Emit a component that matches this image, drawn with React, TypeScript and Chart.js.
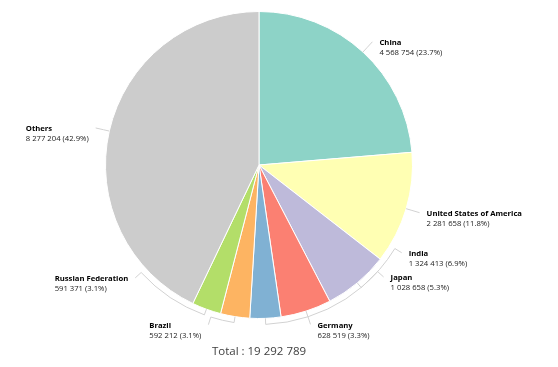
import React, { useEffect, useRef } from "react";
import { Chart, registerables } from "chart.js";

Chart.register(...registerables);

const categories = [
  "China",
  "United States of America",
  "India",
  "Japan",
  "Germany",
  "Brazil",
  "Russian Federation",
  "Others",
];
const values = [4568754, 2281658, 1324413, 1028658, 628519, 592212, 591371, 8277204];
const colors = ["#8dd3c7", "#ffffb3", "#bebada", "#fb8072", "#80b1d3", "#fdb462", "#b3de69", "#cccccc"];
// label angular displacement (degrees) from slice middle, to avoid overlap
const labelShiftDeg = [0, 0, -18.6, -30.2, -15.5, 8.6, 27.6, 0];

const fmt = (n: number) => String(n).replace(/\B(?=(\d{3})+(?!\d))/g, " ");

const FONT = '"Open Sans", "DejaVu Sans", sans-serif';
const FS = 7.7;

const labelPlugin = {
  id: "pieLabels",
  afterDatasetsDraw(chart: any) {
    const ctx = chart.ctx as CanvasRenderingContext2D;
    const meta = chart.getDatasetMeta(0);
    const total = values.reduce((a, b) => a + b, 0);
    meta.data.forEach((arc: any, i: number) => {
      const { x, y, startAngle, endAngle, outerRadius } = arc.getProps(
        ["x", "y", "startAngle", "endAngle", "outerRadius"],
        true
      );
      const mid = (startAngle + endAngle) / 2;
      const la = mid + (labelShiftDeg[i] * Math.PI) / 180;
      const r1 = outerRadius + 6;
      const r2 = outerRadius + 14;
      ctx.save();
      ctx.strokeStyle = "#d2d2d2";
      ctx.lineWidth = 1;
      ctx.beginPath();
      ctx.moveTo(x + outerRadius * Math.cos(mid), y + outerRadius * Math.sin(mid));
      ctx.lineTo(x + r1 * Math.cos(mid), y + r1 * Math.sin(mid));
      if (Math.abs(la - mid) > 1e-6) ctx.arc(x, y, r1, mid, la, la < mid);
      const ex = x + r2 * Math.cos(la);
      const ey = y + r2 * Math.sin(la);
      ctx.lineTo(ex, ey);
      ctx.stroke();

      const name = categories[i];
      const valTxt = `${fmt(values[i])} (${((values[i] / total) * 100).toFixed(1)}%)`;
      ctx.font = `bold ${FS}px ${FONT}`;
      const w1 = ctx.measureText(name).width;
      ctx.font = `${FS}px ${FONT}`;
      const w2 = ctx.measureText(valTxt).width;
      const bw = Math.max(w1, w2);
      const right = Math.cos(la) >= 0;
      const lx = right ? ex + 7 : ex - 7 - bw;
      ctx.textAlign = "left";
      ctx.textBaseline = "middle";
      ctx.fillStyle = "#000000";
      ctx.font = `bold ${FS}px ${FONT}`;
      ctx.fillText(name, lx, ey + 1);
      ctx.fillStyle = "#222222";
      ctx.font = `${FS}px ${FONT}`;
      ctx.fillText(valTxt, lx, ey + 11);
      ctx.restore();
    });
    // total
    const first = meta.data[0];
    if (first) {
      ctx.save();
      ctx.font = `11.5px ${FONT}`;
      ctx.fillStyle = "#404040";
      ctx.textAlign = "center";
      ctx.textBaseline = "middle";
      ctx.fillText(`Total : ${fmt(total)}`, first.x, chart.chartArea.bottom + 33);
      ctx.restore();
    }
  },
};

export default function App() {
  const ref = useRef<HTMLCanvasElement | null>(null);
  useEffect(() => {
    if (!ref.current) return;
    const chart = new Chart(ref.current, {
      type: "pie",
      data: {
        labels: categories,
        datasets: [
          {
            data: values,
            backgroundColor: colors,
            borderColor: "#ffffff",
            borderWidth: 1,
          },
        ],
      },
      options: {
        animation: false,
        responsive: false,
        maintainAspectRatio: false,
        layout: { padding: { left: 40, right: 80, top: 11, bottom: 48 } },
        plugins: {
          legend: { display: false },
          tooltip: { enabled: false },
        },
        events: [],
      },
      plugins: [labelPlugin],
    });
    return () => chart.destroy();
  }, []);
  return (
    <div style={{ position: "fixed", left: 0, top: 0, width: 558, height: 367, background: "#fff" }}>
      <canvas ref={ref} width={558} height={367} style={{ width: 558, height: 367 }} />
    </div>
  );
}
